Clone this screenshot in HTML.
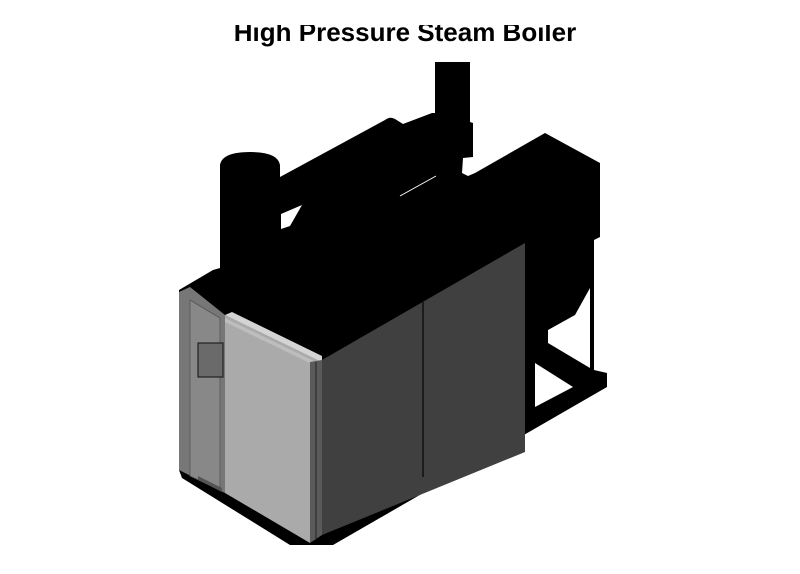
<!DOCTYPE html>
<html><head><meta charset="utf-8"><style>
html,body{margin:0;padding:0;background:#fff;}
svg{display:block;}
</style></head><body>
<svg width="800" height="574" viewBox="0 0 800 574" xmlns="http://www.w3.org/2000/svg">
<rect width="800" height="574" fill="#fff"/>
<text x="405" y="41" text-anchor="middle" font-family="Liberation Sans, sans-serif" font-weight="bold" font-size="26" fill="#000">High Pressure Steam Boiler</text>
<rect x="0" y="0" width="800" height="25" fill="#fff"/>
<!-- black silhouette -->
<path d="M220,268 L220,165 Q222,152 250,152 Q278,152 280,165 L280,177 L385,120 Q390,116 395,119 L403,124 L432,113 L435,113 L435,62 L470,62 L470,122 L473,123 L473,157 L463,158 L462,173 L468,176 L475,173 L545,133 L600,163 L600,237 L594,240 L594,370 L607,373 L607,387 L333,545 L290,545 L182,478 L179,470 L179,290 L213,270 Z" fill="#000"/>
<!-- white holes -->
<path d="M281,214 L302,205 L290,226 L281,229 Z" fill="#fff"/>
<path d="M590,288 L590,368 L548,343 L548,330 L575,315 Z" fill="#fff"/>
<path d="M535,363 L573,387 L535,407 Z" fill="#fff"/>
<line x1="400" y1="196" x2="436" y2="176" stroke="#fff" stroke-width="1"/>
<!-- dark side panels -->
<path d="M322,360 L525,243 L525,452 L322,535 Z" fill="#404040"/>
<line x1="423" y1="302" x2="423" y2="477" stroke="#111" stroke-width="1.5"/>
<!-- left grey panel -->
<path d="M179,292 L190,287 L225,315 L225,493 L179,470 Z" fill="#777"/>
<path d="M190,300 L220,318 L220,490 L190,476 Z" fill="#888" stroke="#555" stroke-width="0.8"/>
<rect x="198" y="343" width="25" height="34" fill="#6a6a6a" stroke="#222" stroke-width="1.2"/>
<path d="M198,476 L222,488 L222,492 L198,480 Z" fill="#555"/>
<!-- light front panel -->
<path d="M225,315 L322,360 L310,543 L225,493 Z" fill="#aaa"/>
<path d="M225,315 L232,312 L322,356 L322,362 Z" fill="#d4d4d4"/>
<path d="M225,318 L316,362 L316,366 L225,322 Z" fill="#bdbdbd"/>
<path d="M310,362 L322,360 L322,535 L310,543 Z" fill="#5a5a5a"/>
<line x1="316" y1="362" x2="316" y2="540" stroke="#222" stroke-width="1"/>
</svg>
</body></html>
